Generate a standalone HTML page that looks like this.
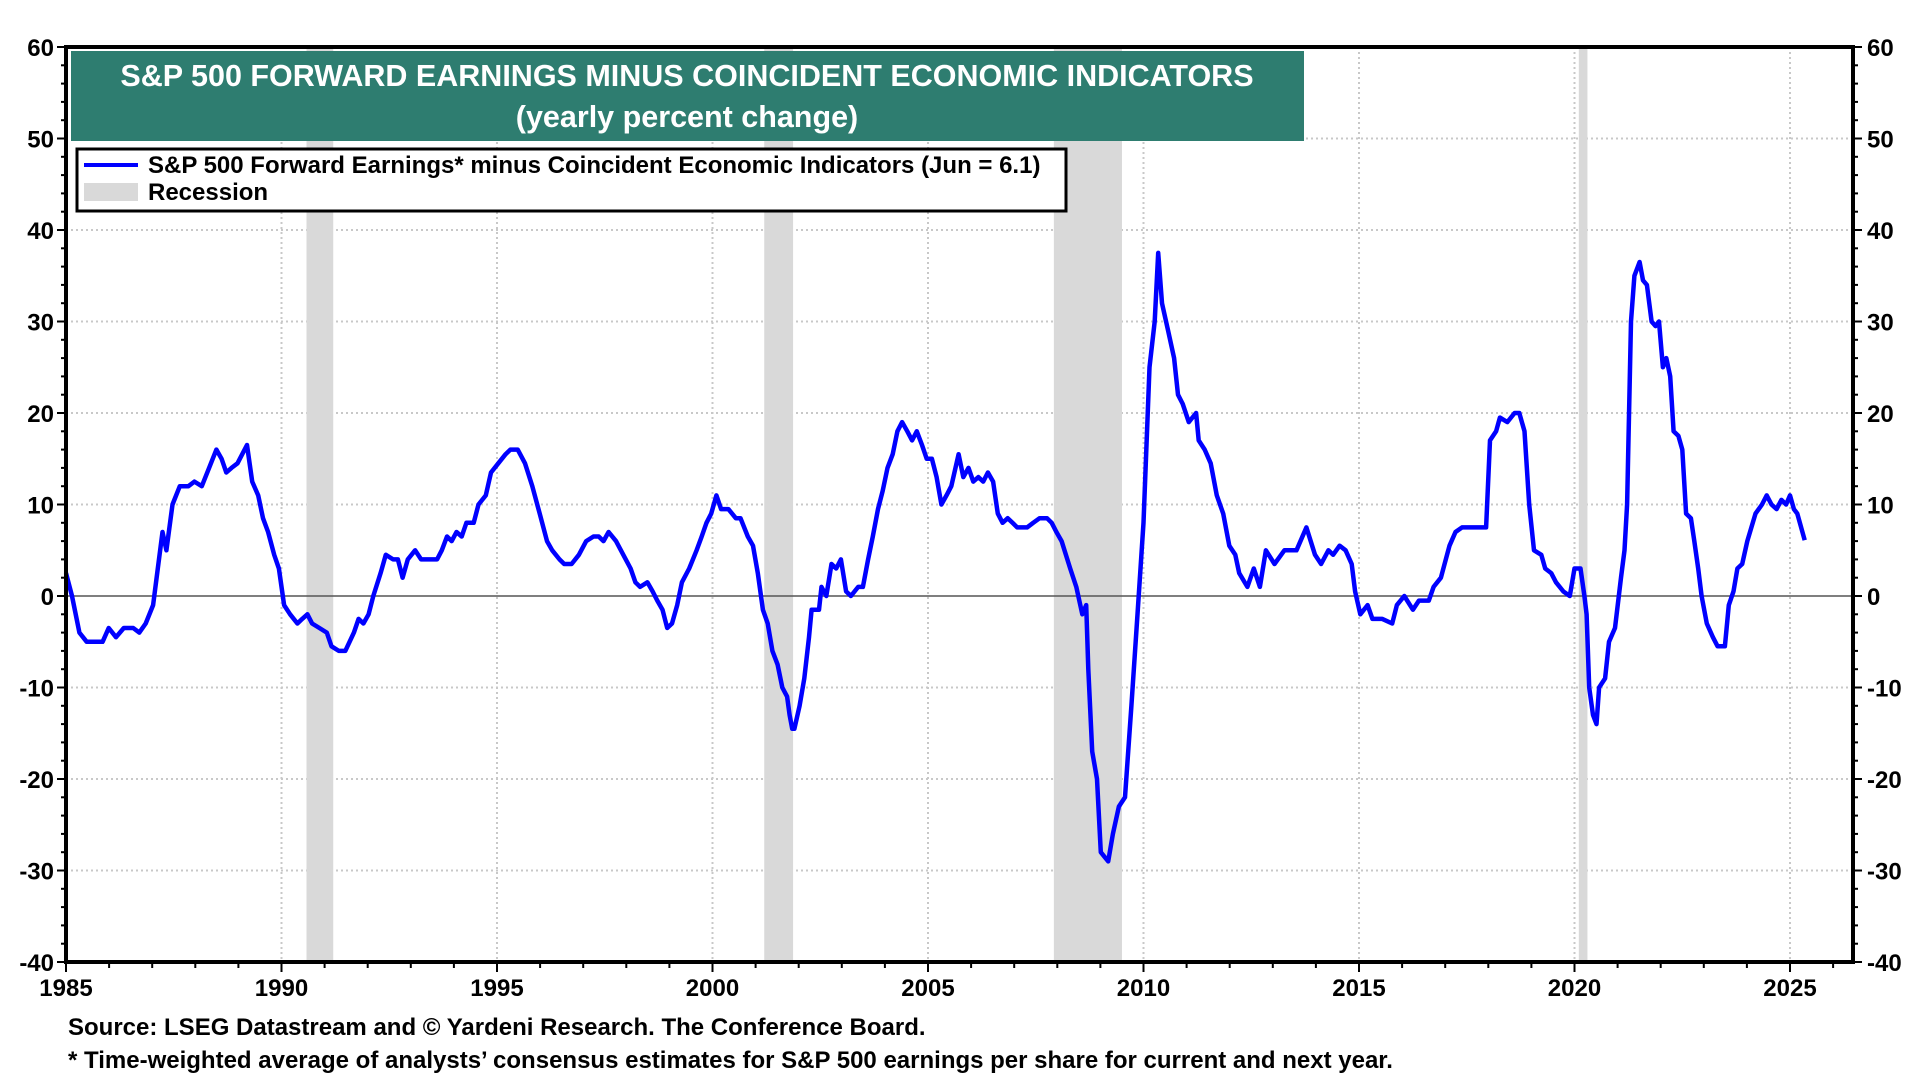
<!DOCTYPE html>
<html><head><meta charset="utf-8"><style>
html,body{margin:0;padding:0;background:#fff;}
svg{display:block;font-family:"Liberation Sans",Arial,sans-serif;font-weight:bold;}
</style></head><body>
<svg id="chart" width="1920" height="1080" viewBox="0 0 1920 1080" xmlns="http://www.w3.org/2000/svg">
<g id="grid"></g>
<g id="recessions"></g>
<line id="zeroline" stroke="#555" stroke-width="1.5"/>
<polyline id="series" fill="none" stroke="#0000ff" stroke-width="4.5" stroke-linejoin="round"/>
<g id="axes"></g>
<rect x="71" y="51" width="1233" height="90" fill="#2e7d70"/>
<text x="687" y="86" text-anchor="middle" fill="#fff" font-size="30.5">S&amp;P 500 FORWARD EARNINGS MINUS COINCIDENT ECONOMIC INDICATORS</text>
<text x="687" y="127" text-anchor="middle" fill="#fff" font-size="30.5">(yearly percent change)</text>
<g>
<rect x="77" y="149" width="989" height="62" fill="#fff" stroke="#000" stroke-width="3"/>
<line x1="84" y1="165" x2="138" y2="165" stroke="#0000ff" stroke-width="4"/>
<text x="148" y="173" font-size="24">S&amp;P 500 Forward Earnings* minus Coincident Economic Indicators (Jun = 6.1)</text>
<rect x="84" y="183" width="54" height="18" fill="#d9d9d9"/>
<text x="148" y="200" font-size="24">Recession</text>
</g>
<text x="68" y="1035" font-size="24">Source: LSEG Datastream and © Yardeni Research. The Conference Board.</text>
<text x="68" y="1068" font-size="24">* Time-weighted average of analysts’ consensus estimates for S&amp;P 500 earnings per share for current and next year.</text>
</svg>
<script>
const years=[1985.00,1985.14,1985.31,1985.48,1985.85,1985.99,1986.16,1986.34,1986.56,1986.70,1986.85,1987.02,1987.13,1987.24,1987.33,1987.47,1987.64,1987.84,1987.98,1988.15,1988.32,1988.49,1988.61,1988.72,1988.84,1988.98,1989.20,1989.32,1989.46,1989.57,1989.69,1989.83,1989.94,1990.06,1990.20,1990.37,1990.48,1990.60,1990.71,1990.88,1991.05,1991.16,1991.33,1991.48,1991.68,1991.79,1991.90,1992.02,1992.13,1992.30,1992.42,1992.59,1992.70,1992.81,1992.93,1993.10,1993.24,1993.61,1993.72,1993.84,1993.95,1994.06,1994.18,1994.29,1994.46,1994.57,1994.74,1994.86,1995.03,1995.20,1995.31,1995.48,1995.65,1995.82,1995.99,1996.16,1996.28,1996.45,1996.56,1996.73,1996.90,1997.07,1997.24,1997.36,1997.47,1997.59,1997.76,1997.93,1998.10,1998.21,1998.32,1998.49,1998.61,1998.72,1998.84,1998.95,1999.06,1999.18,1999.29,1999.46,1999.63,1999.75,1999.86,1999.97,2000.09,2000.20,2000.37,2000.54,2000.65,2000.82,2000.94,2001.05,2001.17,2001.28,2001.39,2001.51,2001.62,2001.73,2001.79,2001.85,2001.90,2002.02,2002.13,2002.24,2002.30,2002.47,2002.53,2002.64,2002.76,2002.87,2002.98,2003.10,2003.21,2003.38,2003.49,2003.61,2003.72,2003.84,2003.95,2004.06,2004.18,2004.29,2004.40,2004.52,2004.63,2004.74,2004.86,2004.97,2005.09,2005.20,2005.31,2005.43,2005.54,2005.71,2005.82,2005.94,2006.05,2006.17,2006.28,2006.39,2006.51,2006.62,2006.73,2006.85,2006.96,2007.07,2007.19,2007.30,2007.44,2007.59,2007.76,2007.87,2007.98,2008.10,2008.30,2008.44,2008.58,2008.67,2008.72,2008.81,2008.92,2009.01,2009.18,2009.29,2009.43,2009.57,2009.72,2009.86,2010.00,2010.14,2010.26,2010.34,2010.43,2010.57,2010.71,2010.80,2010.91,2011.05,2011.22,2011.28,2011.42,2011.56,2011.70,2011.85,2011.99,2012.13,2012.22,2012.41,2012.56,2012.70,2012.84,2013.04,2013.27,2013.55,2013.78,2013.98,2014.12,2014.29,2014.40,2014.55,2014.69,2014.83,2014.91,2015.03,2015.20,2015.31,2015.54,2015.77,2015.88,2016.05,2016.25,2016.39,2016.62,2016.73,2016.90,2017.10,2017.24,2017.39,2017.53,2017.67,2017.87,2017.95,2018.04,2018.18,2018.27,2018.44,2018.61,2018.72,2018.84,2018.95,2019.06,2019.23,2019.32,2019.46,2019.57,2019.74,2019.89,2020.00,2020.14,2020.23,2020.28,2020.34,2020.43,2020.51,2020.57,2020.71,2020.80,2020.94,2021.08,2021.16,2021.22,2021.31,2021.39,2021.51,2021.59,2021.68,2021.79,2021.88,2021.96,2022.05,2022.13,2022.22,2022.30,2022.41,2022.50,2022.59,2022.70,2022.78,2022.87,2022.95,2023.07,2023.21,2023.32,2023.49,2023.58,2023.69,2023.78,2023.89,2024.01,2024.20,2024.35,2024.46,2024.57,2024.69,2024.80,2024.91,2025.00,2025.09,2025.17,2025.34];
const values=[2.5,0,-4,-5,-5,-3.5,-4.5,-3.5,-3.5,-4,-3,-1,3,7,5,10,12,12,12.5,12,14,16,15,13.5,14,14.5,16.5,12.5,11,8.5,7,4.5,3,-1,-2,-3,-2.5,-2,-3,-3.5,-4,-5.5,-6,-6,-4,-2.5,-3,-2,0,2.5,4.5,4,4,2,4,5,4,4,5,6.5,6,7,6.5,8,8,10,11,13.5,14.5,15.5,16,16,14.5,12,9,6,5,4,3.5,3.5,4.5,6,6.5,6.5,6,7,6,4.5,3,1.5,1,1.5,0.5,-0.5,-1.5,-3.5,-3,-1,1.5,3,5,6.5,8,9,11,9.5,9.5,8.5,8.5,6.5,5.5,2.5,-1.5,-3,-6,-7.5,-10,-11,-13,-14.5,-14.5,-12,-9,-4.5,-1.5,-1.5,1,0,3.5,3,4,0.5,0,1,1,4,6.5,9.5,11.5,14,15.5,18,19,18,17,18,16.5,15,15,13,10,11,12,15.5,13,14,12.5,13,12.5,13.5,12.5,9,8,8.5,8,7.5,7.5,7.5,8,8.5,8.5,8,7,6,3,1,-2,-1,-8,-17,-20,-28,-29,-26,-23,-22,-12,-2,8,25,30,37.5,32,29,26,22,21,19,20,17,16,14.5,11,9,5.5,4.5,2.5,1,3,1,5,3.5,5,5,7.5,4.5,3.5,5,4.5,5.5,5,3.5,0.5,-2,-1,-2.5,-2.5,-3,-1,0,-1.5,-0.5,-0.5,1,2,5.5,7,7.5,7.5,7.5,7.5,7.5,17,18,19.5,19,20,20,18,10,5,4.5,3,2.5,1.5,0.5,0,3,3,0,-2,-10,-13,-14,-10,-9,-5,-3.5,2,5,10,30,35,36.5,34.5,34,30,29.5,30,25,26,24,18,17.5,16,9,8.5,6,3,0,-3,-4.5,-5.5,-5.5,-1,0.5,3,3.5,6,9,10,11,10,9.5,10.5,10,11,9.5,9,6.1];
const recStart=[1990.58,2001.2,2007.92,2020.1];
const recEnd=[1991.2,2001.87,2009.5,2020.3];
const yTicks=[60,50,40,30,20,10,0,-10,-20,-30,-40];
const xTickYears=[1985,1990,1995,2000,2005,2010,2015,2020,2025];

const L=66,R=1853,T=47,B=962;
const x=y=>L+(y-1985)*43.1;
const yv=v=>T+(60-v)*(B-T)/100;
const NS="http://www.w3.org/2000/svg";
function mk(tag,attrs,parent){const e=document.createElementNS(NS,tag);for(const k in attrs)e.setAttribute(k,attrs[k]);parent.appendChild(e);return e;}
const grid=document.getElementById('grid'),axes=document.getElementById('axes'),rec=document.getElementById('recessions');
yTicks.forEach(v=>{if(v<60&&v>-40&&v!==0){const g=mk('line',{x1:L,x2:R,y1:yv(v),y2:yv(v),stroke:'#c8c8c8','stroke-width':2,'stroke-dasharray':'2,3'},grid);

}});
xTickYears.forEach(yr=>{if(yr>1985){const g=mk('line',{x1:x(yr),x2:x(yr),y1:T,y2:B,stroke:'#c8c8c8','stroke-width':2,'stroke-dasharray':'2,3'},grid);

}});
recStart.forEach((s,i)=>{const r=mk('rect',{x:x(s),y:T,width:x(recEnd[i])-x(s),height:B-T,fill:'#d9d9d9'},rec);

});
const z=document.getElementById('zeroline');z.setAttribute('x1',L);z.setAttribute('x2',R);z.setAttribute('y1',yv(0));z.setAttribute('y2',yv(0));
document.getElementById('series').setAttribute('points',years.map((yr,i)=>x(yr).toFixed(1)+','+yv(values[i]).toFixed(1)).join(' '));
const fr=mk('rect',{x:L,y:T,width:R-L,height:B-T,fill:'none',stroke:'#000','stroke-width':4},axes);


for(let v=-40;v<=60;v+=2){const len=v%10===0?9:5;
mk('line',{x1:L-len,x2:L,y1:yv(v),y2:yv(v),stroke:'#000','stroke-width':2},axes);
mk('line',{x1:R,x2:R+len,y1:yv(v),y2:yv(v),stroke:'#000','stroke-width':2},axes);}
yTicks.forEach(v=>{const a=mk('text',{x:L-12,y:yv(v)+9,'text-anchor':'end','font-size':24},axes);a.textContent=v;


const b=mk('text',{x:R+14,y:yv(v)+9,'font-size':24},axes);b.textContent=v;

});
for(let yr=1985;yr<=2026;yr++){const len=yr%5===0?10:6;mk('line',{x1:x(yr),x2:x(yr),y1:B,y2:B+len,stroke:'#000','stroke-width':2},axes);}
xTickYears.forEach(yr=>{const t=mk('text',{x:x(yr),y:B+34,'text-anchor':'middle','font-size':24},axes);t.textContent=yr;

});
</script>
</body></html>
